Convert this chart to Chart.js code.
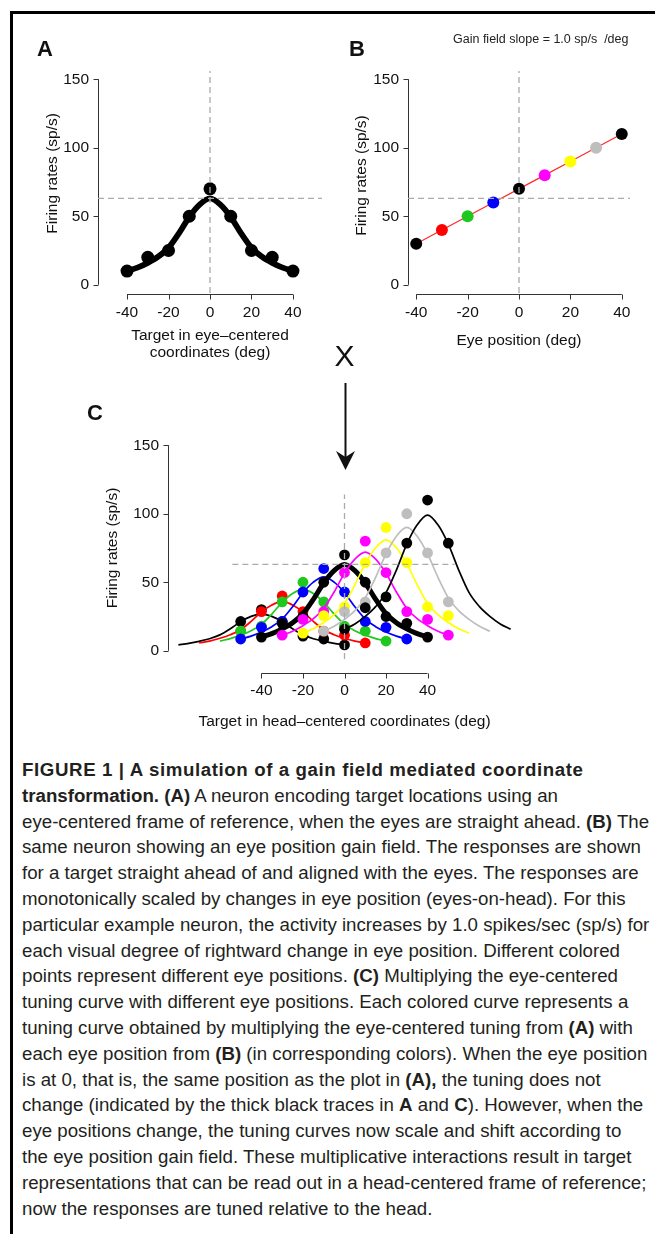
<!DOCTYPE html>
<html><head><meta charset="utf-8">
<script src="https://cdn.jsdelivr.net/npm/chart.js@4.4.1/dist/chart.umd.min.js"></script>
<style>
html,body{margin:0;padding:0;background:#fff;}
body{width:655px;height:1234px;position:relative;overflow:hidden;font-family:"Liberation Sans",Arial,sans-serif;color:#111;}
.frameTop{position:absolute;left:10px;top:11px;width:645px;height:3px;background:#000;}
.frameLeft{position:absolute;left:10px;top:11px;width:3px;height:1223px;background:#000;}
canvas{position:absolute;}
.plet{position:absolute;font-weight:bold;font-size:22px;line-height:22px;color:#111;}
#gain{position:absolute;left:453px;top:33px;font-size:12.5px;line-height:12.5px;white-space:pre;color:#222;}
#xmul{position:absolute;left:324px;top:341px;width:41px;text-align:center;font-size:30px;line-height:30px;color:#111;}
#caption{position:absolute;left:22px;top:757px;font-size:18.7px;color:#231f20;}
#caption .ln{white-space:nowrap;height:25.8px;line-height:25.8px;}
#caption .wide{letter-spacing:0.6px;}
</style>
</head><body>
<div class="frameTop"></div><div class="frameLeft"></div>
<canvas id="cA" width="330" height="372" style="left:0;top:0;width:330px;height:372px"></canvas>
<canvas id="cB" width="330" height="372" style="left:325px;top:0;width:330px;height:372px"></canvas>
<canvas id="cC" width="655" height="370" style="left:0;top:370px;width:655px;height:370px"></canvas>
<div class="plet" style="left:37px;top:38px">A</div>
<div class="plet" style="left:349px;top:38px">B</div>
<div class="plet" style="left:87px;top:402px">C</div>
<div id="gain">Gain field slope = 1.0 sp/s  /deg</div>
<div id="xmul">X</div>
<div id="caption">
<div class="ln wide"><b>FIGURE 1 | A simulation of a gain field mediated coordinate</b></div>
<div class="ln"><b>transformation. (A)</b> A neuron encoding target locations using an</div>
<div class="ln">eye-centered frame of reference, when the eyes are straight ahead. <b>(B)</b> The</div>
<div class="ln">same neuron showing an eye position gain field. The responses are shown</div>
<div class="ln">for a target straight ahead of and aligned with the eyes. The responses are</div>
<div class="ln">monotonically scaled by changes in eye position (eyes-on-head). For this</div>
<div class="ln">particular example neuron, the activity increases by 1.0 spikes/sec (sp/s) for</div>
<div class="ln">each visual degree of rightward change in eye position. Different colored</div>
<div class="ln">points represent different eye positions. <b>(C)</b> Multiplying the eye-centered</div>
<div class="ln">tuning curve with different eye positions. Each colored curve represents a</div>
<div class="ln">tuning curve obtained by multiplying the eye-centered tuning from <b>(A)</b> with</div>
<div class="ln">each eye position from <b>(B)</b> (in corresponding colors). When the eye position</div>
<div class="ln">is at 0, that is, the same position as the plot in <b>(A),</b> the tuning does not</div>
<div class="ln">change (indicated by the thick black traces in <b>A</b> and <b>C</b>). However, when the</div>
<div class="ln">eye positions change, the tuning curves now scale and shift according to</div>
<div class="ln">the eye position gain field. These multiplicative interactions result in target</div>
<div class="ln">representations that can be read out in a head-centered frame of reference;</div>
<div class="ln">now the responses are tuned relative to the head.</div>
</div>
<script>
// ---------- data ----------
const yTicks = [0, 50, 100, 150];
const xTicks = [-40, -20, 0, 20, 40];
const refRate = 63;          // dashed horizontal reference level
const refPos = 0;            // dashed vertical reference position

// Panel A: eye-centered tuning
const aTargets = [-40, -30, -20, -10, 0, 10, 20, 30, 40];
const aRates = [10, 20, 25, 50, 70, 50, 25, 20, 10];
const tuneOffsets = [-40, -35, -30, -25, -20, -15, -10, -5, 0, 5, 10, 15, 20, 25, 30, 35, 40];
const aCurve = [10, 12.5, 16, 20.5, 27, 37.5, 49.5, 58.5, 63, 58.5, 49.5, 37.5, 27, 20.5, 16, 12.5, 10];

// Panel B: eye position gain field
const eyePositions = [-40, -30, -20, -10, 0, 10, 20, 30, 40];
const eyeRates = [30, 40, 50, 60, 70, 80, 90, 100, 110];
const eyeColors = ['#000000', '#ff0000', '#1ec81e', '#0000ff', '#000000', '#ff00ff', '#ffff00', '#bebebe', '#000000'];

// Panel C: head-centered responses (points at target positions)
const cTargets = [-50, -40, -30, -20, -10, 0, 10, 20, 30, 40, 50];
const cRatesM40 = [21.4, 30, 21.4, 10.7, 8.6, 4.3, null, null, null, null, null];
const cRatesM30 = [14.3, 28.6, 40, 28.6, 14.3, 11.4, 5.7, null, null, null, null];
const cRatesM20 = [14.3, 17.9, 35.7, 50, 35.7, 17.9, 14.3, 7.1, null, null, null];
const cRatesM10 = [8.6, 17.1, 21.4, 42.9, 60, 42.9, 21.4, 17.1, 8.6, null, null];
const cRates0 = [null, 10, 20, 25, 50, 70, 50, 25, 20, 10, null];
const cRatesP10 = [null, null, 11.4, 22.9, 28.6, 57.1, 80, 57.1, 28.6, 22.9, 11.4];
const cRatesP20 = [null, null, null, 12.9, 25.7, 32.1, 64.3, 90, 64.3, 32.1, 25.7];
const cRatesP30 = [null, null, null, null, 14.3, 28.6, 35.7, 71.4, 100, 71.4, 35.7];
const cRatesP40 = [null, null, null, null, null, 15.7, 31.4, 39.3, 78.6, 110, 78.6];
// Panel C: fitted curves (sampled at eye position + tuneOffsets)
const cCurveM40 = [4.3, 5.4, 6.9, 8.8, 11.6, 16.1, 21.2, 25.1, 27.0, 25.1, 21.2, 16.1, 11.6, 8.8, 6.9, 5.4, 4.3];
const cCurveM30 = [5.7, 7.1, 9.1, 11.7, 15.4, 21.4, 28.3, 33.4, 36.0, 33.4, 28.3, 21.4, 15.4, 11.7, 9.1, 7.1, 5.7];
const cCurveM20 = [7.1, 8.9, 11.4, 14.6, 19.3, 26.8, 35.4, 41.8, 45.0, 41.8, 35.4, 26.8, 19.3, 14.6, 11.4, 8.9, 7.1];
const cCurveM10 = [8.6, 10.7, 13.7, 17.6, 23.1, 32.1, 42.4, 50.1, 54.0, 50.1, 42.4, 32.1, 23.1, 17.6, 13.7, 10.7, 8.6];
const cCurve0 = [10, 12.5, 16, 20.5, 27, 37.5, 49.5, 58.5, 63, 58.5, 49.5, 37.5, 27, 20.5, 16, 12.5, 10];
const cCurveP10 = [11.4, 14.3, 18.3, 23.4, 30.9, 42.9, 56.6, 66.9, 72.0, 66.9, 56.6, 42.9, 30.9, 23.4, 18.3, 14.3, 11.4];
const cCurveP20 = [12.9, 16.1, 20.6, 26.4, 34.7, 48.2, 63.6, 75.2, 81.0, 75.2, 63.6, 48.2, 34.7, 26.4, 20.6, 16.1, 12.9];
const cCurveP30 = [14.3, 17.9, 22.9, 29.3, 38.6, 53.6, 70.7, 83.6, 90.0, 83.6, 70.7, 53.6, 38.6, 29.3, 22.9, 17.9, 14.3];
const cCurveP40 = [15.7, 19.6, 25.1, 32.2, 42.4, 58.9, 77.8, 91.9, 99.0, 91.9, 77.8, 58.9, 42.4, 32.2, 25.1, 19.6, 15.7];
const cRefX = [-54, 53];     // extent of the horizontal dashed segment in C
const cRefY = [-6, 114];     // extent of the vertical dashed segment in C

const titleA = ['Target in eye\u2013centered', 'coordinates (deg)'];
const titleB = 'Eye position (deg)';
const titleC = 'Target in head\u2013centered coordinates (deg)';
const titleY = 'Firing rates (sp/s)';

// ---------- helpers ----------
Chart.defaults.font.family = '"Liberation Sans", Arial, sans-serif';
Chart.defaults.color = '#111';
const AX = '#333';
const DASH = '#ababab';

const rAxes = {
  id: 'rAxes',
  beforeDatasetsDraw(chart, args, o) {
    const ctx = chart.ctx, xs = chart.scales.x, ys = chart.scales.y, ca = chart.chartArea;
    ctx.save();
    ctx.strokeStyle = AX; ctx.lineWidth = 1;
    ctx.beginPath();
    const xl = Math.round(ca.left) + 0.5;
    ctx.moveTo(xl, ys.getPixelForValue(yTicks[0]));
    ctx.lineTo(xl, ys.getPixelForValue(yTicks[yTicks.length - 1]));
    yTicks.forEach(v => { const p = Math.round(ys.getPixelForValue(v)) + 0.5; ctx.moveTo(xl, p); ctx.lineTo(xl - o.tick, p); });
    const yb = Math.round(ca.bottom + o.xOffset) + 0.5;
    ctx.moveTo(xs.getPixelForValue(xTicks[0]), yb);
    ctx.lineTo(xs.getPixelForValue(xTicks[xTicks.length - 1]), yb);
    xTicks.forEach(v => { const p = Math.round(xs.getPixelForValue(v)) + 0.5; ctx.moveTo(p, yb); ctx.lineTo(p, yb + o.tick); });
    ctx.stroke();
    ctx.restore();
  },
  afterDraw(chart, args, o) {
    if (!o.arrow) return;
    const ctx = chart.ctx, xs = chart.scales.x;
    const x = Math.round(xs.getPixelForValue(refPos)) + 0.5;
    const [y0, y1] = o.arrow;
    ctx.save();
    ctx.strokeStyle = '#111'; ctx.fillStyle = '#111'; ctx.lineWidth = 2;
    ctx.beginPath(); ctx.moveTo(x, y0); ctx.lineTo(x, y1 - 8); ctx.stroke();
    ctx.beginPath(); ctx.moveTo(x - 9.5, y1 - 19); ctx.lineTo(x, y1 - 13); ctx.lineTo(x + 9.5, y1 - 19); ctx.lineTo(x, y1); ctx.closePath(); ctx.fill();
    ctx.restore();
  }
};

function setTicks(s) { s.ticks = (s.axis === 'x' ? xTicks : yTicks).map(v => ({ value: v })); }

function scalesFor(o) {
  return {
    x: {
      type: 'linear', min: o.xmin, max: o.xmax,
      afterBuildTicks: setTicks, afterFit: s => { s.height = o.xh; },
      grid: { display: false, drawTicks: false }, border: { display: false },
      ticks: { padding: o.xpad, autoSkip: false, maxRotation: 0, font: { size: 15.5 }, color: '#111' },
      title: { display: true, text: o.xtitle, padding: 0, font: { size: 15.5, lineHeight: 1.07 }, color: '#111' }
    },
    y: {
      type: 'linear', min: -6, max: 156,
      afterBuildTicks: setTicks, afterFit: s => { s.width = o.yw; },
      grid: { display: false, drawTicks: false }, border: { display: false },
      ticks: { padding: 9, autoSkip: false, font: { size: 15.5 }, color: '#111' },
      title: { display: true, text: o.ytitle, padding: 0, font: { size: 15.5 }, color: '#111' }
    }
  };
}

function baseOpts(o) {
  return {
    responsive: false, animation: false, events: [],
    layout: { padding: o.pad },
    plugins: { legend: { display: false }, tooltip: { enabled: false }, rAxes: o.axes },
    scales: scalesFor(o)
  };
}

function pts(xa, ya) { return xa.map((x, i) => ({ x: x, y: ya[i] })).filter(p => p.y !== null); }
function dashed(x0, x1, y0, y1, order) {
  return { data: [{ x: x0, y: y0 }, { x: x1, y: y1 }], showLine: true, borderColor: DASH, borderWidth: 1.3,
           borderDash: [6, 4], pointRadius: 0, order: order, clip: false };
}

// ---------- Chart A ----------
new Chart(document.getElementById('cA'), {
  type: 'scatter',
  data: { datasets: [
    dashed(-54, 54, refRate, refRate, 0),
    dashed(refPos, refPos, -6, 156, 0),
    { data: pts(aTargets, aRates), pointRadius: 6.5, pointBackgroundColor: '#000', pointBorderWidth: 0, showLine: false, order: 1, clip: false },
    { data: pts(tuneOffsets, aCurve), showLine: true, borderColor: '#000', borderWidth: 5.8, pointRadius: 0,
      cubicInterpolationMode: 'monotone', order: 2, clip: false }
  ]},
  options: baseOpts({ pad: { left: 43, right: 8, top: 71, bottom: 11 }, xmin: -54, xmax: 54, xh: 68, yw: 55, xpad: 10,
                      xtitle: titleA, ytitle: '    ' + titleY, axes: { tick: 5, xOffset: 1 } }),
  plugins: [rAxes]
});

// ---------- Chart B ----------
new Chart(document.getElementById('cB'), {
  type: 'scatter',
  data: { datasets: [
    dashed(-43.2, 43.2, refRate, refRate, 0),
    dashed(refPos, refPos, -6, 156, 0),
    { data: pts(eyePositions, eyeRates), showLine: true, borderColor: '#ff2a2a', borderWidth: 1.2,
      pointRadius: 6, pointBackgroundColor: eyeColors, pointBorderWidth: 0, order: 1, clip: false }
  ]},
  options: baseOpts({ pad: { left: 27, right: 25, top: 71, bottom: 23 }, xmin: -43.2, xmax: 43.2, xh: 56, yw: 56, xpad: 10,
                      xtitle: titleB, ytitle: '   ' + titleY, axes: { tick: 5, xOffset: 1 } }),
  plugins: [rAxes]
});

// ---------- Chart C ----------
const cRates = [cRatesM40, cRatesM30, cRatesM20, cRatesM10, cRates0, cRatesP10, cRatesP20, cRatesP30, cRatesP40];
const cCurves = [cCurveM40, cCurveM30, cCurveM20, cCurveM10, cCurve0, cCurveP10, cCurveP20, cCurveP30, cCurveP40];
const cSets = [dashed(cRefX[0], cRefX[1], refRate, refRate, 0), dashed(refPos, refPos, cRefY[0], cRefY[1], 0)];
eyePositions.forEach((e, i) => {
  cSets.push({ data: pts(tuneOffsets.map(t => e + t), cCurves[i]), showLine: true, borderColor: eyeColors[i],
               borderWidth: e === 0 ? 5 : 1.7, pointRadius: 0, cubicInterpolationMode: 'monotone', order: 100 - 2 * i, clip: false });
  cSets.push({ data: pts(cTargets, cRates[i]), showLine: false, pointRadius: 5.4, pointBackgroundColor: eyeColors[i],
               pointBorderWidth: 0, order: 99 - 2 * i, clip: false });
});
new Chart(document.getElementById('cC'), {
  type: 'scatter',
  data: { datasets: cSets },
  options: baseOpts({ pad: { left: 103, right: 134, top: 67, bottom: 10 }, xmin: -85, xmax: 85, xh: 71, yw: 65, xpad: 22,
                      xtitle: titleC, ytitle: titleY, axes: { tick: 5, xOffset: 14, arrow: [13, 100] } }),
  plugins: [rAxes]
});
</script>
</body></html>
